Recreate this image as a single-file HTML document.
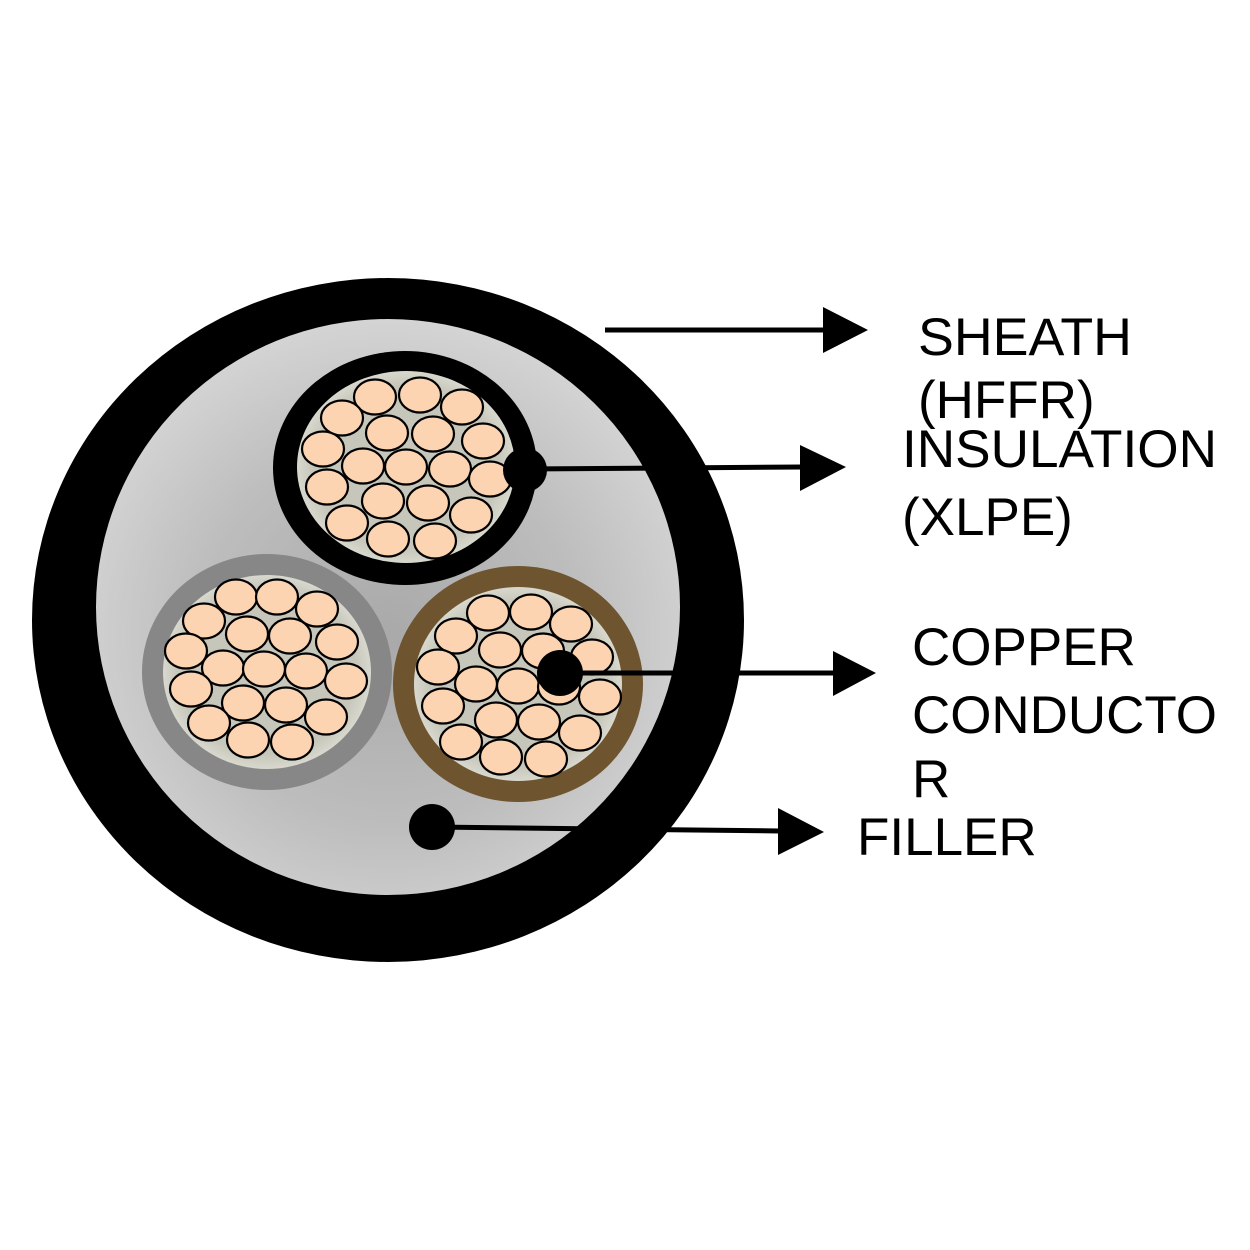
<!DOCTYPE html>
<html><head><meta charset="utf-8"><style>html,body{margin:0;padding:0;background:#fff}svg{display:block}</style></head>
<body>
<svg width="1250" height="1250" viewBox="0 0 1250 1250" xmlns="http://www.w3.org/2000/svg">
<defs>
<radialGradient id="fill" cx="0.5" cy="0.55" r="0.55">
<stop offset="0" stop-color="#a9a9a9"/><stop offset="0.6" stop-color="#bdbdbd"/><stop offset="1" stop-color="#d4d4d4"/>
</radialGradient>
<radialGradient id="inn" cx="0.5" cy="0.5" r="0.5">
<stop offset="0.85" stop-color="#c6c6ba"/><stop offset="1" stop-color="#d8d8ce"/>
</radialGradient>
<g id="str"><ellipse rx="21" ry="17.5" fill="#fcd4b2" stroke="#000" stroke-width="2.2"/></g>
</defs>
<ellipse cx="388" cy="620" rx="356" ry="342" fill="#000"/>
<ellipse cx="388" cy="607" rx="292" ry="288" fill="url(#fill)"/>
<!-- top core -->
<ellipse cx="405" cy="468" rx="132" ry="117" fill="#000"/>
<ellipse cx="406" cy="467" rx="109" ry="96" fill="url(#inn)"/>
<g>
<use href="#str" x="375" y="397"/><use href="#str" x="420" y="395"/><use href="#str" x="462" y="407"/>
<use href="#str" x="342" y="418"/><use href="#str" x="387" y="433"/><use href="#str" x="433" y="434"/><use href="#str" x="483" y="441"/>
<use href="#str" x="323" y="449"/><use href="#str" x="363" y="466"/><use href="#str" x="406" y="467"/><use href="#str" x="450" y="469"/><use href="#str" x="490" y="479"/>
<use href="#str" x="327" y="487"/><use href="#str" x="383" y="501"/><use href="#str" x="428" y="503"/><use href="#str" x="471" y="515"/>
<use href="#str" x="347" y="523"/><use href="#str" x="388" y="539"/><use href="#str" x="435" y="541"/>
</g>
<!-- left core -->
<ellipse cx="267" cy="672" rx="125" ry="118" fill="#878787"/>
<ellipse cx="267" cy="672" rx="104" ry="97" fill="url(#inn)"/>
<g>
<use href="#str" x="236" y="597"/><use href="#str" x="277" y="597"/><use href="#str" x="317" y="609"/>
<use href="#str" x="204" y="621"/><use href="#str" x="247" y="634"/><use href="#str" x="290" y="636"/><use href="#str" x="337" y="642"/>
<use href="#str" x="186" y="651"/><use href="#str" x="223" y="668"/><use href="#str" x="264" y="669"/><use href="#str" x="306" y="671"/><use href="#str" x="346" y="681"/>
<use href="#str" x="191" y="689"/><use href="#str" x="243" y="703"/><use href="#str" x="286" y="705"/><use href="#str" x="326" y="717"/>
<use href="#str" x="209" y="723"/><use href="#str" x="248" y="740"/><use href="#str" x="292" y="742"/>
</g>
<!-- right core -->
<ellipse cx="518" cy="684" rx="125" ry="118" fill="#6e552f"/>
<ellipse cx="518" cy="684" rx="104" ry="97" fill="url(#inn)"/>
<g>
<use href="#str" x="488" y="613"/><use href="#str" x="531" y="612"/><use href="#str" x="571" y="624"/>
<use href="#str" x="456" y="636"/><use href="#str" x="500" y="650"/><use href="#str" x="543" y="651"/><use href="#str" x="592" y="657"/>
<use href="#str" x="438" y="667"/><use href="#str" x="476" y="684"/><use href="#str" x="518" y="686"/><use href="#str" x="559" y="687"/><use href="#str" x="600" y="697"/>
<use href="#str" x="443" y="706"/><use href="#str" x="496" y="720"/><use href="#str" x="539" y="722"/><use href="#str" x="580" y="733"/>
<use href="#str" x="461" y="742"/><use href="#str" x="501" y="757"/><use href="#str" x="546" y="759"/>
</g>
<!-- pointers -->
<g fill="#000" stroke="#000">
<line x1="605" y1="330" x2="825" y2="330" stroke-width="5"/>
<polygon points="823,307 868,330 823,353" stroke="none"/>
<circle cx="525" cy="470" r="22" stroke="none"/>
<line x1="525" y1="469" x2="802" y2="467" stroke-width="5"/>
<polygon points="800,445 846,467 800,491" stroke="none"/>
<circle cx="560" cy="673" r="23" stroke="none"/>
<line x1="560" y1="673" x2="835" y2="673" stroke-width="5"/>
<polygon points="833,651 876,673 833,696" stroke="none"/>
<circle cx="432" cy="827" r="23" stroke="none"/>
<line x1="432" y1="827" x2="780" y2="831" stroke-width="5"/>
<polygon points="778,808 824,832 778,855" stroke="none"/>
</g>
<g font-family="Liberation Sans, Arial, sans-serif" font-size="53" fill="#000">
<text x="918" y="355" textLength="214" lengthAdjust="spacingAndGlyphs">SHEATH</text>
<text x="918" y="418">(HFFR)</text>
<text x="902" y="467" textLength="315" lengthAdjust="spacingAndGlyphs">INSULATION</text>
<text x="902" y="535">(XLPE)</text>
<text x="912" y="665">COPPER</text>
<text x="912" y="733" textLength="305" lengthAdjust="spacingAndGlyphs">CONDUCTO</text>
<text x="912" y="797">R</text>
<text x="857" y="855">FILLER</text>
</g>
</svg>
</body></html>
